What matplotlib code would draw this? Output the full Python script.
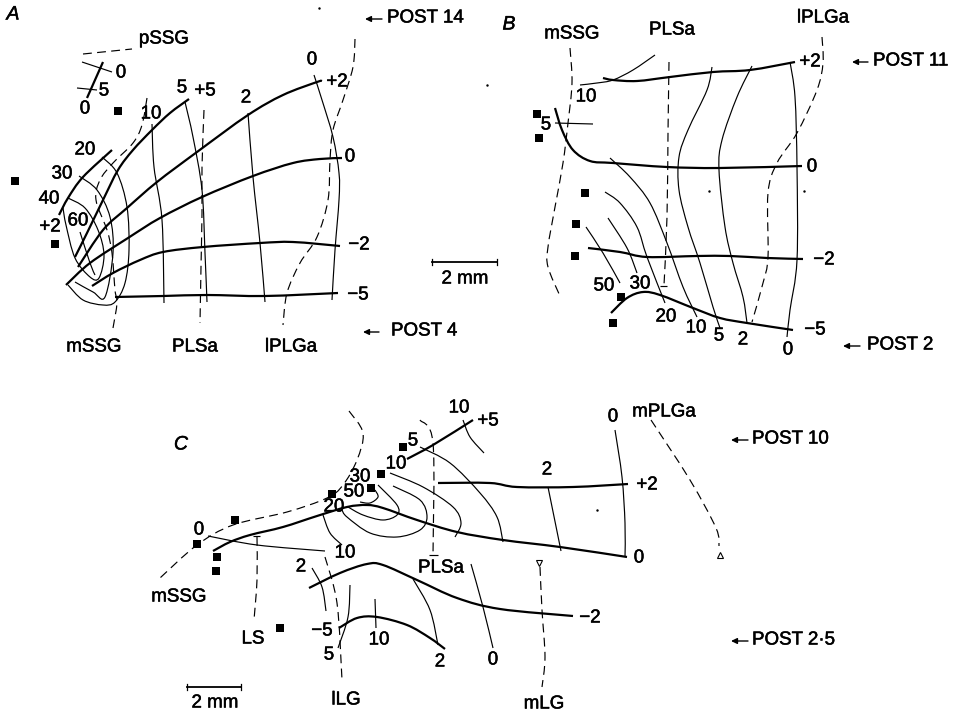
import numpy as np
import matplotlib
matplotlib.use("Agg")
import matplotlib.pyplot as plt
import matplotlib.patheffects as pe
from matplotlib.path import Path
from matplotlib.patches import PathPatch

plt.rcParams['font.family'] = ['Liberation Sans', 'DejaVu Sans']

# all traced in picture coordinates (x right, y down)
# panel A
a_thick = [
    [(75,257),(87,233),(103,200),(118,170),(133,150),(152,130),(170,113),(189,99)],
    [(78,267),(103,230),(127,208),(157,182),(197,152),(248,115),(283,95),(317,82),(322,81)],
    [(66,285),(90,263),(128,238),(160,218),(202,197),(253,176),(293,163),(320,159),(342,158)],
    [(92,286),(113,273),(140,260),(163,252),(203,247),(260,243),(293,242),(340,246)],
    [(115,297),(163,296),(207,295),(265,296),(338,293)],
    [(59,215),(68,198),(83,177),(112,150)],
    [(103,62),(87,98)],
]
a_thin = [
    [(82,62),(112,72)],
    [(77,88),(97,90)],
    [(314,75),(322,100),(333,137),(339,173),(339,200),(335,250),(332,300)],
    [(248,113),(253,177),(260,243),(265,302)],
    [(185,102),(193,137),(202,190),(205,253),(207,302)],
    [(152,124),(154,167),(162,220),(164,303)],
    [(102,157),(117,173),(127,207),(129,250),(125,283),(115,302),(103,305),(83,300),(68,285)],
    [(79,176),(97,190),(110,217),(113,253),(105,297),(93,292),(75,282)],
    [(68,198),(85,208),(98,230),(104,255),(99,278),(90,277),(75,258),(66,225),(63,208)],
    [(80,232),(90,263),(95,275)],
]
a_dashed = [
    [(83,54),(132,49)],
    [(147,98),(142,125),(133,143),(113,163),(100,180),(96,200),(107,230),(112,253),(115,290),(117,303),(113,328)],
    [(204,110),(202,167),(202,213),(201,267),(200,323)],
    [(355,39),(353,67),(343,100),(333,130),(330,160),(328,200),(317,237),(300,263),(287,293),(283,325)],
]
a_squares = [(118,111),(15,181),(55,244)]

# panel B
b_thick = [
    [(603,78),(613,80),(637,81),(670,77),(713,72),(750,70),(795,62)],
    [(555,108),(562,130),(573,150),(590,161),(613,163),(667,167),(720,168),(802,166)],
    [(588,248),(620,252),(647,257),(697,256),(730,256),(767,258),(803,259)],
    [(611,313),(627,298),(643,292),(660,295),(693,308),(720,318),(747,323),(793,330)],
]
b_thin = [
    [(580,85),(597,83),(613,80),(633,70),(655,55)],
    [(555,123),(593,124)],
    [(790,62),(795,97),(797,167),(797,260),(790,310),(787,337)],
    [(752,66),(737,97),(722,140),(719,170),(725,227),(733,263),(743,297),(747,323)],
    [(712,67),(707,90),(688,130),(679,157),(679,190),(688,227),(700,263),(713,307),(720,328)],
    [(610,158),(630,177),(650,203),(667,243),(683,287),(697,317)],
    [(605,192),(620,203),(637,227),(647,257),(665,303)],
    [(608,218),(627,248),(637,273)],
    [(586,227),(603,253),(620,283)],
    [(660,286),(667,286)],
]
b_dashed = [
    [(570,48),(572,83),(568,123),(563,163),(555,207),(548,247),(548,267),(560,296)],
    [(669,62),(668,133),(667,217),(664,285)],
    [(822,37),(823,63),(817,90),(797,133),(777,163),(768,193),(768,257),(763,283),(752,322)],
]
b_squares = [(537,114),(539,138),(585,193),(576,224),(575,256),(621,297),(613,323)]

# panel C
c_thick = [
    [(407,459),(433,445),(473,420)],
    [(438,483),(490,483),(517,487),(573,487),(628,484)],
    [(213,551),(230,542),(250,535),(283,527),(317,516),(347,507),(367,505),(383,508),(417,520),(457,532),(503,540),(560,547),(627,557)],
    [(309,588),(340,573),(367,564),(383,565),(417,580),(457,598),(500,609),(573,616)],
    [(339,628),(357,618),(377,617),(407,625),(430,638),(445,649)],
]
c_thin = [
    [(615,430),(622,477),(625,523),(625,557)],
    [(548,487),(561,551)],
    [(463,420),(470,437),(484,453)],
    [(420,447),(450,463),(480,493),(497,517),(503,542)],
    [(390,473),(423,487),(453,507),(461,523),(455,537)],
    [(393,486),(420,500),(427,517),(420,530),(397,537),(370,533),(347,517),(342,510)],
    [(378,485),(397,505),(397,515),(383,520),(363,515),(348,507)],
    [(375,490),(378,497),(370,503),(360,502)],
    [(323,515),(330,533),(342,545)],
    [(208,536),(257,545),(325,551)],
    [(312,568),(322,587),(326,611)],
    [(350,585),(348,617),(338,648)],
    [(375,599),(376,628)],
    [(413,579),(430,610),(438,645)],
    [(471,564),(483,607),(493,648)],
    [(429,555),(438,555)],
    [(253,536),(260,536)],
]
c_dashed = [
    [(349,411),(363,433),(357,460),(343,485),(327,498),(287,512),(233,525),(197,545),(160,578)],
    [(420,420),(433,443),(433,555)],
    [(257,537),(257,580),(254,620)],
    [(325,557),(337,603),(342,680)],
    [(540,567),(542,610),(545,657),(542,687)],
    [(651,420),(690,480),(716,528),(719,546)],
]
c_squares = [(403,447),(381,474),(371,488),(332,494),(235,520),(197,544),(217,557),(216,571),(280,628)]
triangles_down = [(539,563)]
triangles_up = [(720,555)]

scale_bars = [(432,497,262),(187,241,687)]
specks = [(319,8),(597,510),(709,191),(804,191),(487,85)]

labels = [
    ("pSSG",164,39),("0",121,73),("5",104,91),("0",85,109),("10",151,114),("5",182,88),("+5",205,91),
    ("2",246,98),("0",312,60),("+2",337,82),("0",350,157),("\u22122",359,245),("\u22125",358,295),
    ("20",85,150),("30",62,174),("40",49,199),("+2",50,227),("60",78,221),
    ("mSSG",94,347),("PLSa",195,347),("lPLGa",291,347),("2 mm",465,279),
    ("mSSG",572,34),("PLSa",672,30),("lPLGa",823,18),("+2",810,62),("10",586,97),("5",546,125),
    ("0",812,167),("\u22122",824,260),("\u22125",815,330),("50",604,286),("30",640,284),("20",666,317),
    ("10",696,328),("5",719,336),("2",743,340),("0",788,350),
    ("10",459,408),("+5",488,421),("0",613,417),("mPLGa",664,412),("5",413,441),("10",396,464),
    ("2",547,470),("+2",647,485),("30",360,477),("50",354,492),("20",334,507),("0",199,530),
    ("10",345,553),("2",301,567),("PLSa",441,568),("0",639,558),("mSSG",179,597),("\u22122",590,618),
    ("\u22125",322,631),("LS",253,639),("10",379,640),("5",329,655),("2",440,662),("0",493,660),
    ("lLG",346,700),("mLG",544,704),("2 mm",215,703),
]
# text, text left edge, arrow tail, arrow head, y
post_labels = [
    ("POST 14",387,382,365,18),("POST 4",391,379,363,331),("POST 11",873,868,852,61),
    ("POST 2",867,860,843,345),("POST 10",752,748,731,439),("POST 2\u00b75",752,748,731,640),
]
panel_letters = [("A",13,15),("B",509,25),("C",181,445)]


def curve(ax, pts, lw, ls='-'):
    # catmull-rom through the traced points, so the lines are not kinked
    p = np.array(pts, dtype=float)
    if len(p) < 3:
        ax.plot(p[:, 0], p[:, 1], color='black', lw=lw, ls=ls, solid_capstyle='butt')
        return
    q = np.vstack([p[0], p, p[-1]])
    verts = [p[0]]
    for i in range(1, len(q) - 2):
        verts += [q[i] + (q[i+1] - q[i-1]) / 6, q[i+1] - (q[i+2] - q[i]) / 6, q[i+1]]
    codes = [Path.MOVETO] + [Path.CURVE4] * (len(verts) - 1)
    ax.add_patch(PathPatch(Path(verts, codes), fill=False, ec='black', lw=lw, ls=ls, capstyle='butt'))


fig = plt.figure(figsize=(9.55, 7.14), dpi=100)
ax = fig.add_axes([0, 0, 1, 1])
ax.set_xlim(0, 955)
ax.set_ylim(714, 0)
ax.axis('off')

dash = (0, (7.5, 4.5))
for group in (a_thick, b_thick, c_thick):
    for line in group:
        curve(ax, line, 1.6)
for group in (a_thin, b_thin, c_thin):
    for line in group:
        curve(ax, line, 0.85)
for group in (a_dashed, b_dashed, c_dashed):
    for line in group:
        curve(ax, line, 0.85, dash)

squares = np.array(a_squares + b_squares + c_squares)
ax.plot(squares[:, 0], squares[:, 1], 's', color='black', ms=5.2, mew=0)
ax.plot(*zip(*triangles_down), 'v', mfc='white', mec='black', ms=5, mew=0.8)
ax.plot(*zip(*triangles_up), '^', mfc='white', mec='black', ms=5, mew=0.8)
ax.plot(*zip(*specks), '.', color='black', ms=1.5)

for x0, x1, y in scale_bars:
    ax.plot([x0, x1], [y, y], color='black', lw=1.3)
    ax.plot([x0, x0], [y - 3, y + 3], color='black', lw=0.9)
    ax.plot([x1, x1], [y - 3, y + 3], color='black', lw=0.9)

# the scan's lettering is heavier than regular weight, a thin stroke gets close
heavy = [pe.withStroke(linewidth=0.35, foreground='black')]
for s, x, y in labels:
    ax.text(x, y, s, fontsize=13.5, ha='center', va='center', color='black', path_effects=heavy)
for s, x_text, x_tail, x_head, y in post_labels:
    ax.text(x_text, y, s, fontsize=13.5, ha='left', va='center', color='black', path_effects=heavy)
    ax.annotate('', xy=(x_head, y + 1), xytext=(x_tail, y + 1),
                arrowprops=dict(arrowstyle='-|>,head_length=0.35,head_width=0.17', color='black',
                                lw=1.0, shrinkA=0, shrinkB=0))
for s, x, y in panel_letters:
    ax.text(x, y, s, fontsize=14, style='italic', ha='center', va='center', color='black', path_effects=heavy)

fig.savefig('out.png', dpi=100, facecolor='white')
